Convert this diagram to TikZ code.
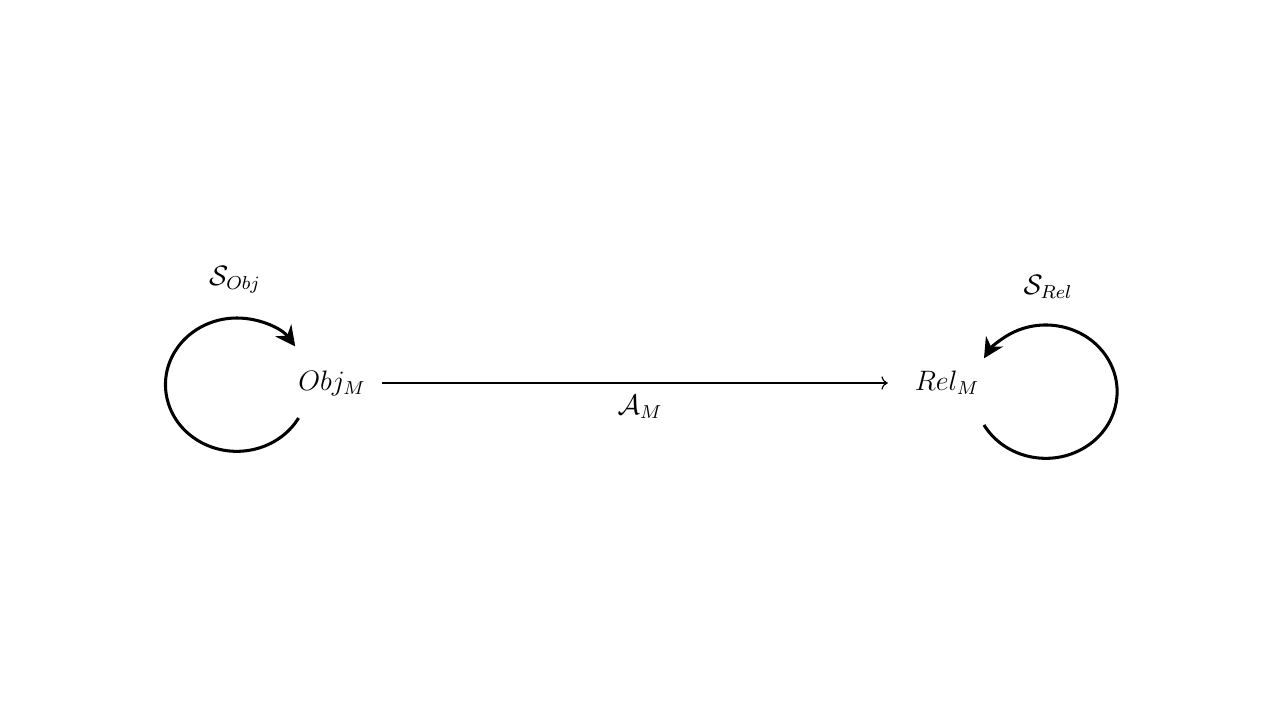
\documentclass[tikz,border=0pt]{standalone}
\usetikzlibrary{arrows.meta}
\begin{document}
\begin{tikzpicture}[x=0.015cm,y=0.015cm,
  lbl/.style={font=\large},
  loop/.style={line width=1.3pt,-{Stealth[length=3mm,width=3mm]}}]
\useasboundingbox (0,0) rectangle (1280,720);
\node[lbl] (obj) at (332,337) {$Obj_M$};
\node[lbl] (rel) at (947,337) {$Rel_M$};
\draw[->,line width=0.5pt] (obj.east)+(8,0) coordinate (a1) -- ([xshift=-8]rel.west) coordinate (a2);
\node[lbl] (am) at (640,313) {$\mathcal{A}_M$};
\coordinate (ls) at (298.6,302);
\draw[loop] (ls) arc[start angle=-30,end angle=-325,x radius=1.07cm,y radius=1.0cm];
\node[lbl] (sobj) at (235,440) {$\mathcal{S}_{Obj}$};
\coordinate (rs) at (984,295);
\draw[loop] (rs) arc[start angle=210,end angle=510,x radius=1.07cm,y radius=1.0cm];
\node[lbl] (srel) at (1048,433) {$\mathcal{S}_{Rel}$};
\end{tikzpicture}
\end{document}
